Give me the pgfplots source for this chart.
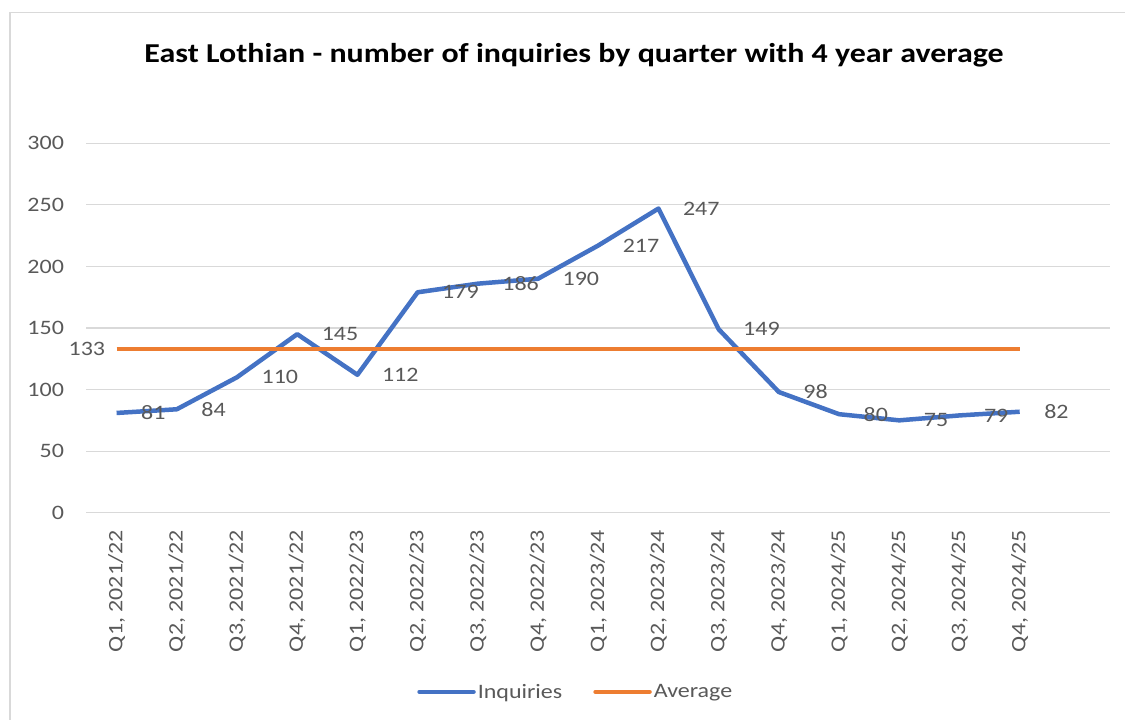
\documentclass[border=0pt]{standalone}
\usepackage{pgfplots}
\pgfplotsset{compat=1.18}
\usepackage{fontspec}
\setmainfont{Carlito}[FakeStretch=1.17]
\definecolor{cblue}{HTML}{4472C4}
\definecolor{corange}{HTML}{ED7D31}
\definecolor{cgrid}{HTML}{D9D9D9}
\definecolor{ctext}{HTML}{595959}
\begin{document}
\begin{tikzpicture}[x=1pt,y=1pt]
\useasboundingbox (0,0) rectangle (1125,720);
\draw[cgrid, line width=1.2pt] (10,0) -- (10,707.5) -- (1125,707.5);
\node[font=\fontsize{27.3}{31}\selectfont\bfseries, text=black] at (574,665) {East Lothian - number of inquiries by quarter with 4 year average};
\begin{axis}[
  scale only axis,
  width=1023.5pt, height=369.4pt,
  at={(86.5pt,207.3pt)}, anchor=south west,
  xmin=-0.5, xmax=16.5,
  ymin=0, ymax=300,
  ytick={0,50,...,300},
  xtick={0,...,15},
  xticklabels={{Q1, 2021/22},{Q2, 2021/22},{Q3, 2021/22},{Q4, 2021/22},{Q1, 2022/23},{Q2, 2022/23},{Q3, 2022/23},{Q4, 2022/23},{Q1, 2023/24},{Q2, 2023/24},{Q3, 2023/24},{Q4, 2023/24},{Q1, 2024/25},{Q2, 2024/25},{Q3, 2024/25},{Q4, 2024/25}},
  x tick label style={rotate=90, anchor=east, xshift=-14pt},
  y tick label style={anchor=east, xshift=-19pt},
  tick label style={font=\fontsize{20.5}{24}\selectfont, text=ctext},
  /pgf/number format/assume math mode=true,
  major tick length=0pt,
  ymajorgrids, grid style={cgrid, line width=1.2pt},
  axis x line*=bottom, axis y line*=left,
  x axis line style={cgrid, line width=1.2pt, -},
  y axis line style={draw=none},
  clip=false,
  legend style={at={(0.478,-0.485)}, anchor=center, draw=none, legend columns=2,
    font=\fontsize{20.5}{24}\selectfont, text=ctext,
    /tikz/every even column/.append style={column sep=29pt}},
  legend image code/.code={\draw[#1, line cap=round] (0pt,0pt) -- (54pt,0pt);},
]
\addplot[cblue, line width=4.5pt, line join=round,
  nodes near coords, point meta=explicit symbolic,
  every node near coord/.append style={anchor=west, xshift=19pt, font=\fontsize{20.5}{24}\selectfont, text=ctext}]
  coordinates {(0,81)[81] (1,84)[84] (2,110)[110] (3,145)[145] (4,112)[112] (5,179)[179] (6,186)[186] (7,190)[190] (8,217)[217] (9,247)[247] (10,149)[149] (11,98)[98] (12,80)[80] (13,75)[75] (14,79)[79] (15,82)[82]};
\addlegendentry{Inquiries}
\addplot[corange, line width=4.5pt] coordinates {(0,133) (15,133)};
\addlegendentry{Average}
\node[anchor=east, font=\fontsize{20.5}{24}\selectfont, text=ctext, xshift=-8pt] at (axis cs:0,133) {133};
\end{axis}
\end{tikzpicture}
\end{document}
